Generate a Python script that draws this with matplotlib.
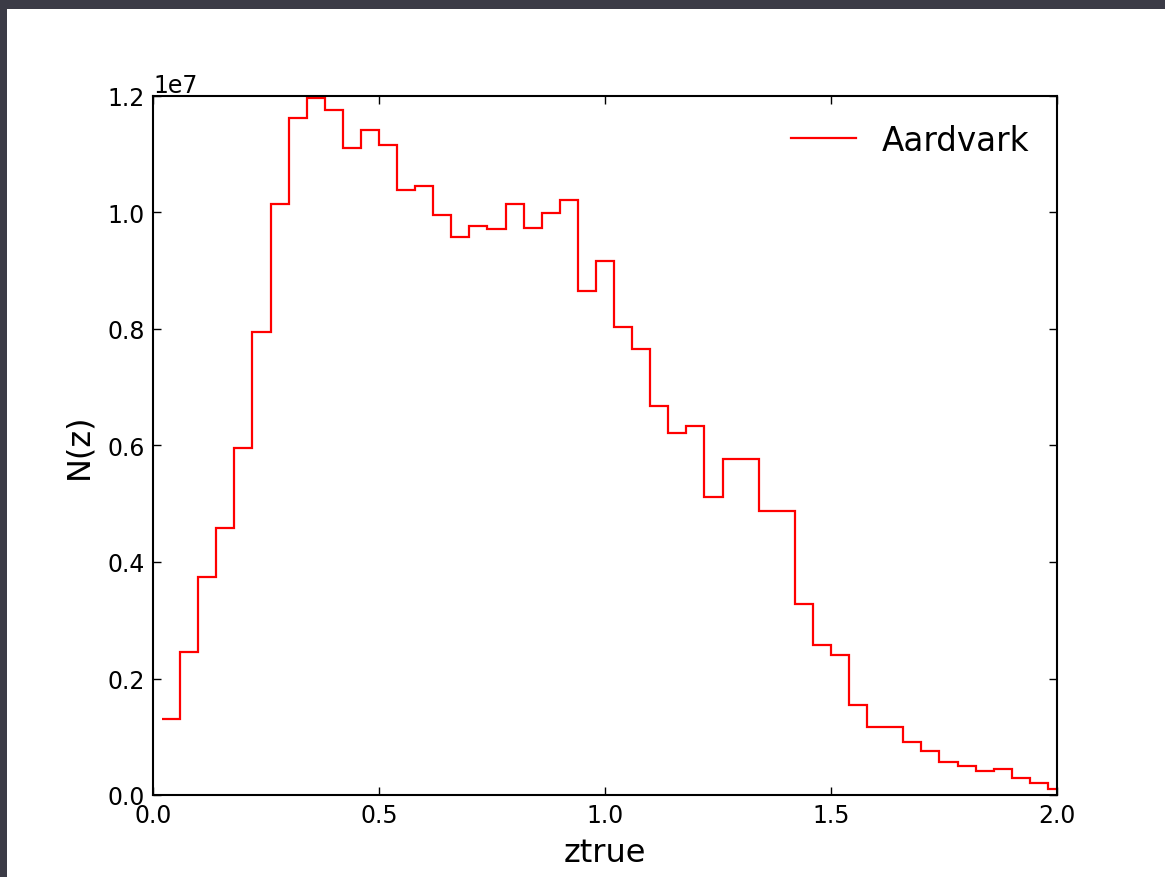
import numpy as np
import matplotlib
matplotlib.use("Agg")
import matplotlib.pyplot as plt
from matplotlib.patches import Rectangle

# Redshift histogram of the Aardvark catalogue
bin_start = 0.02
bin_width = 0.04
counts_1e7 = [
    0.131, 0.246, 0.374, 0.458, 0.596, 0.795, 1.015, 1.162, 1.197, 1.176,
    1.111, 1.142, 1.116, 1.038, 1.045, 0.996, 0.958, 0.976, 0.972, 1.015,
    0.974, 0.999, 1.022, 0.865, 0.916, 0.803, 0.766, 0.668, 0.622, 0.634,
    0.512, 0.576, 0.577, 0.488, 0.487, 0.328, 0.258, 0.240, 0.154, 0.116,
    0.117, 0.091, 0.076, 0.056, 0.049, 0.041, 0.045, 0.030, 0.020, 0.010,
]
series_label = "Aardvark"
x_label = "ztrue"
y_label = "N(z)"

counts = np.array(counts_1e7) * 1e7
edges = np.round(bin_start + bin_width * np.arange(len(counts) + 1), 4)

W, H = 1165, 878
fig = plt.figure(figsize=(W / 100, H / 100), dpi=100, facecolor="#3b3b46")
# white slide area behind the axes
fig.patches.append(Rectangle((7 / W, 0), 1 - 7 / W, (H - 10) / H,
                             transform=fig.transFigure, facecolor="white",
                             edgecolor="none", zorder=-10))

ax = fig.add_axes([153 / W, (H - 796) / H, (1057 - 153) / W, (796 - 97) / H])
ax.set_zorder(1)
ax.stairs(counts, edges, baseline=None, color="red", linewidth=1.6,
          label=series_label)

ax.set_xlim(0, 2.0)
ax.set_ylim(0, 1.2e7)
ax.set_xticks([0.0, 0.5, 1.0, 1.5, 2.0])
ax.set_yticks(np.arange(0, 1.21e7, 0.2e7))

ax.tick_params(direction="in", top=True, right=True, length=6, width=1,
               labelsize=17, pad=6)
for s in ax.spines.values():
    s.set_linewidth(1.5)
ax.yaxis.get_offset_text().set_fontsize(17)

ax.set_xlabel(x_label, fontsize=23, labelpad=7)
ax.set_ylabel(y_label, fontsize=23, labelpad=9)

ax.legend(loc="upper right", frameon=False, fontsize=23.5, handlelength=2.0,
          handletextpad=0.78, borderaxespad=0.45)

fig.savefig("out.png", dpi=100, facecolor=fig.get_facecolor())
